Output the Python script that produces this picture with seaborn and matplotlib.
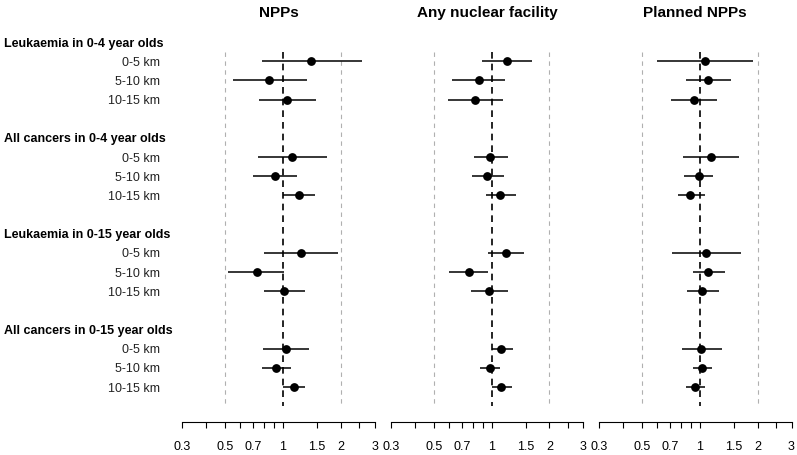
import numpy as np
import pandas as pd
import seaborn as sns
import matplotlib.pyplot as plt
from matplotlib.ticker import FixedLocator, FixedFormatter, NullLocator
from matplotlib.transforms import blended_transform_factory

groups = ["Leukaemia in 0-4 year olds", "All cancers in 0-4 year olds",
          "Leukaemia in 0-15 year olds", "All cancers in 0-15 year olds"]
distances = ["0-5 km", "5-10 km", "10-15 km"]
panels = ["NPPs", "Any nuclear facility", "Planned NPPs"]

# estimates and 95% CIs, order: group by group, 0-5 / 5-10 / 10-15 km
npp_est = [1.41, 0.85, 1.05, 1.11, 0.91, 1.21, 1.25, 0.73, 1.02, 1.04, 0.92, 1.14]
npp_lo = [0.78, 0.55, 0.75, 0.74, 0.70, 1.00, 0.80, 0.52, 0.80, 0.79, 0.78, 1.00]
npp_hi = [2.57, 1.33, 1.48, 1.69, 1.18, 1.47, 1.94, 1.02, 1.31, 1.37, 1.10, 1.31]

any_est = [1.20, 0.86, 0.82, 0.98, 0.95, 1.11, 1.19, 0.76, 0.97, 1.12, 0.98, 1.12]
any_lo = [0.89, 0.62, 0.59, 0.81, 0.79, 0.93, 0.96, 0.60, 0.78, 1.00, 0.87, 1.00]
any_hi = [1.62, 1.18, 1.15, 1.21, 1.16, 1.34, 1.48, 0.96, 1.21, 1.29, 1.11, 1.27]

plan_est = [1.07, 1.11, 0.93, 1.15, 0.99, 0.89, 1.08, 1.11, 1.03, 1.02, 1.03, 0.95]
plan_lo = [0.60, 0.85, 0.71, 0.82, 0.83, 0.77, 0.72, 0.92, 0.86, 0.81, 0.92, 0.85]
plan_hi = [1.90, 1.46, 1.23, 1.61, 1.17, 1.07, 1.63, 1.35, 1.26, 1.31, 1.16, 1.07]

tick_vals = [0.3, 0.4, 0.5, 0.6, 0.7, 0.8, 0.9, 1, 1.5, 2, 2.5, 3]
tick_text = ["0.3", "", "0.5", "", "0.7", "", "", "1", "1.5", "2", "", "3"]

# row positions: header at 5*g, distances at 5*g+1..3
pos = [5 * g + d + 1 for g in range(4) for d in range(3)]
frames = []
for name, est, lo, hi in zip(panels, [npp_est, any_est, plan_est],
                             [npp_lo, any_lo, plan_lo], [npp_hi, any_hi, plan_hi]):
    frames.append(pd.DataFrame({"panel": name, "pos": pos, "est": est, "lo": lo, "hi": hi}))
df = pd.concat(frames, ignore_index=True)

sns.set_theme(style="white")
plt.rcParams["font.family"] = ["Liberation Sans", "DejaVu Sans"]

W, H = 797, 455
fig = plt.figure(figsize=(W / 100, H / 100), dpi=100)
edges = [(182.3, 374.5), (391.3, 583.3), (599.0, 791.5)]
top_px, bot_px = 30, 422
row0, step = 42, 19.17

for k, name in enumerate(panels):
    l, r = edges[k]
    ax = fig.add_axes([l / W, 1 - bot_px / H, (r - l) / W, (bot_px - top_px) / H])
    ax.set_xscale("log")
    sub = df[df["panel"] == name]

    ax.vlines([0.5, 2], 0.5, 19.0, colors="#b0b0b0", linestyles=(0, (4, 4)), lw=0.8)
    ax.vlines(1, 0.5, 19.0, colors="black", linestyles=(0, (4, 3)), lw=1.2)
    ax.hlines(sub["pos"], sub["lo"], sub["hi"], colors="black", lw=1.1, zorder=2)
    sns.scatterplot(data=sub, x="est", y="pos", ax=ax, color="black", s=40,
                    linewidth=0, legend=False, zorder=3)

    ax.set_xlim(0.3, 3)
    ax.set_ylim((bot_px - row0) / step, (top_px - row0) / step)
    ax.set_xlabel("")
    ax.set_ylabel("")
    ax.set_yticks([])
    ax.xaxis.set_major_locator(FixedLocator(tick_vals))
    ax.xaxis.set_major_formatter(FixedFormatter(tick_text))
    ax.xaxis.set_minor_locator(NullLocator())
    ax.tick_params(axis="x", direction="out", length=4, width=0.8, labelsize=9,
                   pad=10, colors="black", bottom=True)
    for s in ["left", "right", "top"]:
        ax.spines[s].set_visible(False)
    ax.spines["bottom"].set_color("black")
    ax.spines["bottom"].set_linewidth(0.8)

    fig.text((l + r) / 2 / W, 1 - 13 / H, name, ha="center", va="center",
             fontsize=11, fontweight="bold", color="black")

    if k == 0:
        tr = blended_transform_factory(fig.transFigure, ax.transData)
        for g, grp in enumerate(groups):
            ax.text(4 / W, 5 * g + 0.08, grp, transform=tr, ha="left", va="center",
                    fontsize=9, fontweight="bold", color="black", clip_on=False)
            for d, dist in enumerate(distances):
                ax.text(160 / W, 5 * g + d + 1.08, dist, transform=tr, ha="right",
                        va="center", fontsize=9, color="#222222", clip_on=False)

fig.savefig("out.png", dpi=100)
